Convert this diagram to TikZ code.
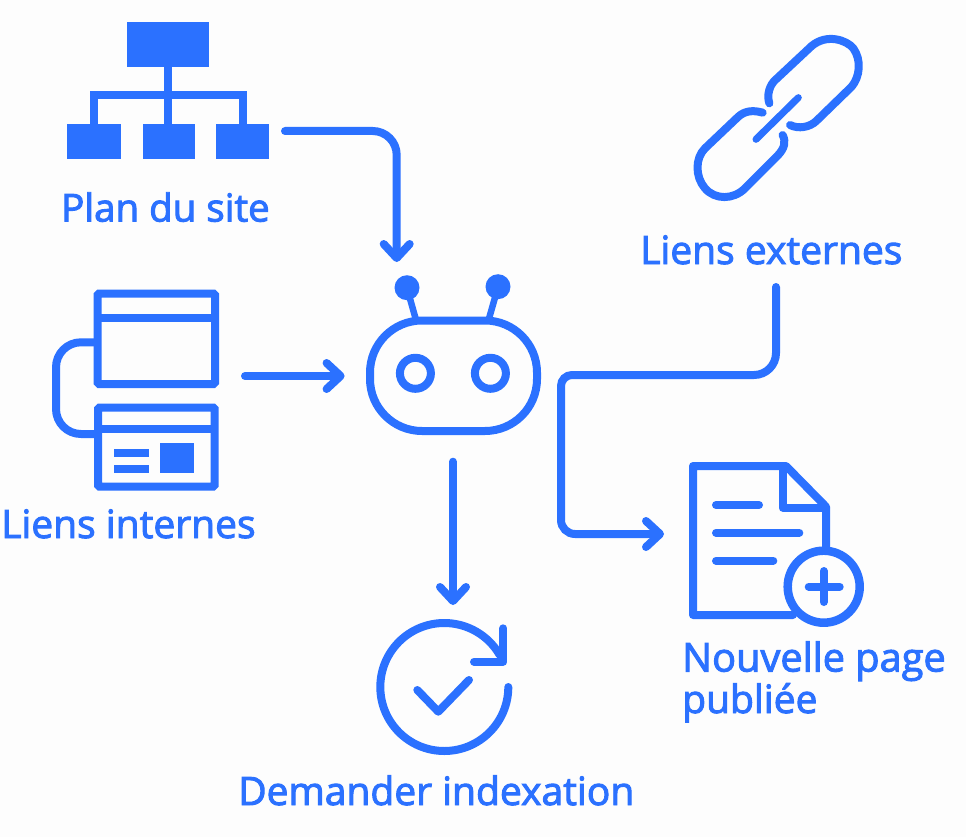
\documentclass[tikz,border=0pt]{standalone}
\usepackage{fontspec}
\setmainfont{Open Sans}[FakeBold=2.5]
\usetikzlibrary{arrows.meta}
\definecolor{brand}{HTML}{2B71FF}
\definecolor{paper}{HTML}{FDFDFD}
\tikzset{
  ink/.style={draw=brand,line width=8pt,line join=round,line cap=round},
  solidbox/.style={fill=brand,draw=none},
  frame/.style={draw=brand,line width=8pt,rounded corners=1.5pt},
  flow/.style={draw=brand,line width=8pt,line cap=round,rounded corners=24pt,
    -{Straight Barb[round,length=14pt,width=26pt,line width=8pt]}},
  label/.style={text=brand,anchor=base west,inner sep=0pt,font=\fontsize{39}{39}\selectfont}
}
\begin{document}
\begin{tikzpicture}[x=1pt,y=-1pt]
\useasboundingbox (0,0) rectangle (966,837);
\fill[paper] (0,0) rectangle (966,837);

% Plan du site
\fill[solidbox] (127.3,22) rectangle (209,67);
\fill[solidbox] (67.3,124) rectangle (120.7,159);
\fill[solidbox] (143,124) rectangle (195,159);
\fill[solidbox] (216,124) rectangle (269.3,159);
\draw[brand,line width=8pt] (168.3,67) -- (168.3,124);
\draw[brand,line width=8pt] (93.7,124) -- (93.7,95) -- (242.7,95) -- (242.7,124);
\node[label,font=\fontsize{38.5}{39}\selectfont] (plan) at (61,221.5) {Plan du site};

% Liens internes
\draw[frame] (97.6,293.5) rectangle (215,384);
\draw[brand,line width=8pt] (97.6,318.3) -- (215,318.3);
\draw[frame] (98,407.5) rectangle (214.6,486.7);
\draw[brand,line width=8pt] (98,429) -- (214.6,429);
\fill[solidbox] (114,449) rectangle (148.6,457);
\fill[solidbox] (114,465) rectangle (148.6,473.3);
\fill[solidbox] (159.6,442.7) rectangle (194.3,473.3);
\draw[brand,line width=8pt,rounded corners=25pt] (94,342.3) -- (56,342.3) -- (56,434) -- (94,434);
\node[label] (internes) at (1,538) {Liens internes};

% Robot
\draw[ink,line width=6.5pt] (407,288) -- (416,320);
\draw[ink,line width=6.5pt] (498,287) -- (488.6,320);
\fill[brand] (407,287.7) circle[radius=12.5];
\fill[brand] (498,286.7) circle[radius=12.5];
\draw[brand,line width=8pt,rounded corners=52pt] (370,320.5) rectangle (537,431);
\draw[brand,line width=8pt] (415.4,373.3) circle[radius=15.5];
\draw[brand,line width=8pt] (490.4,373.3) circle[radius=15.5];

% Liens externes
\begin{scope}[shift={(670,20)},x=0.3333pt,y=-0.3333pt]
\draw[ink,line width=7pt] (258,358) -- (385,233);
\draw[ink] (298,250) .. controls (290,225) and (298,195) .. (318,178) -- (425,78)
  .. controls (470,40) and (530,60) .. (550,85) .. controls (575,120) and (570,170) .. (545,200)
  -- (440,302) .. controls (420,322) and (385,328) .. (360,315);
\draw[ink] (278,278) .. controls (250,270) and (225,272) .. (205,290) -- (105,385)
  .. controls (75,415) and (75,470) .. (105,505) .. controls (135,540) and (190,540) .. (225,505)
  -- (320,410) .. controls (345,385) and (348,365) .. (338,345);
\end{scope}
\node[label] (externes) at (640,264) {Liens externes};

% Nouvelle page
\draw[ink] (793,615) -- (693,615) -- (693,466) -- (786,466) -- (826,506.7) -- (826,552);
\draw[ink] (782.7,466) -- (782.7,507.7) -- (826,507.7);
\draw[ink] (716,505) -- (759,505);
\draw[ink] (716,532.7) -- (799.3,532.7);
\draw[ink] (716,560.7) -- (773.3,560.7);
\draw[brand,line width=8.5pt,fill=paper] (823.7,586.7) circle[radius=36];
\draw[ink] (808.7,586.7) -- (839.7,586.7);
\draw[ink] (823.7,571) -- (823.7,602);
\node[label,font=\fontsize{39.7}{40}\selectfont] (nouvelle) at (682,671.5) {Nouvelle page};
\node[label] (publiee) at (682,713) {publiée};

% Demander indexation
\draw[ink] (508.3,687) arc[start angle=0,end angle=330,radius=64];
\draw[ink] (503.3,628.3) -- (503.3,661.7) -- (474,661.7);
\draw[ink] (417.3,690) -- (438.3,711.7) -- (469,680);
\node[label] (demander) at (238,805) {Demander indexation};

% Connector ends
\coordinate (planout) at (285,131);
\coordinate (botin) at (396.7,262);
\coordinate (internout) at (245,376);
\coordinate (botleft) at (344.6,376);
\coordinate (botout) at (453,461.7);
\coordinate (checkin) at (453,605);
\coordinate (externout) at (776,287);
\coordinate (pagein) at (664,534);

% Connectors
\draw[flow] (planout) -| (botin);
\draw[flow] (internout) -- (botleft);
\draw[flow] (botout) -- (checkin);
\draw[flow,rounded corners=22pt] (externout) -- (776,375) [rounded corners=11pt] -- (561,375) [rounded corners=14pt] -- (561,534) -- (pagein);
\end{tikzpicture}
\end{document}
